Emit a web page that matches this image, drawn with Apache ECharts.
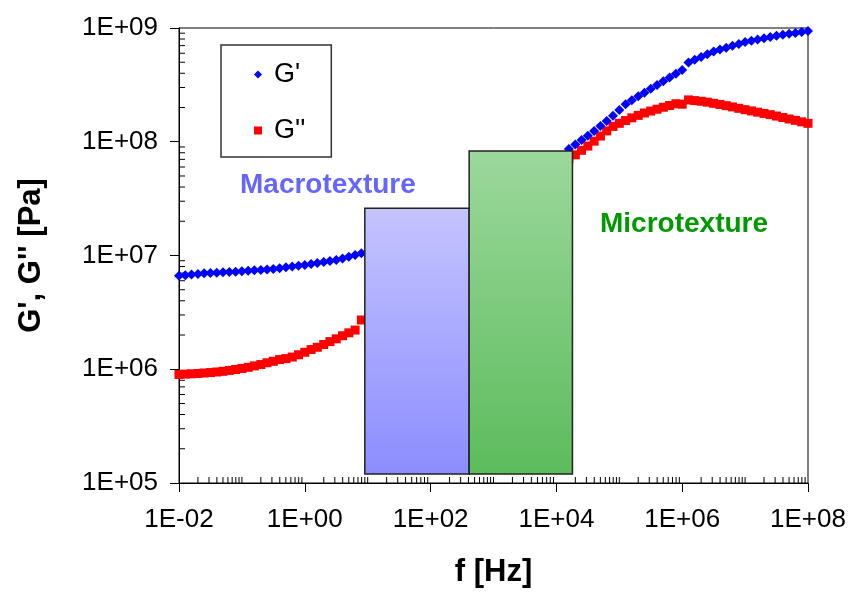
<!DOCTYPE html>
<html>
<head>
<meta charset="utf-8">
<script src="https://cdn.jsdelivr.net/npm/echarts@6/dist/echarts.min.js"></script>
<style>html,body{margin:0;padding:0;background:#fff}#c{width:852px;height:597px}</style>
</head>
<body>
<div id="c"></div>
<script>
// ---- data ----
const fLeft = [0.01, 0.0126, 0.0158, 0.02, 0.0251, 0.0316, 0.0398, 0.0501, 0.0631, 0.0794, 0.1, 0.126, 0.158, 0.2, 0.251, 0.316, 0.398, 0.501, 0.631, 0.794, 1, 1.26, 1.58, 2, 2.51, 3.16, 3.98, 5.01, 6.31, 7.94];
const gPrimeLeft = [6.64e6, 6.71e6, 6.79e6, 6.89e6, 6.97e6, 7.02e6, 7.06e6, 7.11e6, 7.16e6, 7.21e6, 7.26e6, 7.33e6, 7.40e6, 7.46e6, 7.53e6, 7.62e6, 7.74e6, 7.87e6, 8.00e6, 8.13e6, 8.24e6, 8.41e6, 8.59e6, 8.75e6, 8.93e6, 9.12e6, 9.42e6, 9.75e6, 1.01e7, 1.045e7];
const gDoublePrimeLeft = [9.0e5, 9.06e5, 9.12e5, 9.18e5, 9.27e5, 9.35e5, 9.46e5, 9.59e5, 9.77e5, 9.95e5, 1.016e6, 1.04e6, 1.07e6, 1.10e6, 1.14e6, 1.175e6, 1.216e6, 1.24e6, 1.28e6, 1.34e6, 1.41e6, 1.49e6, 1.56e6, 1.65e6, 1.75e6, 1.85e6, 1.97e6, 2.09e6, 2.21e6, 2.71e6];

const fRight = [15800, 20000, 25100, 31600, 39800, 50100, 63100, 79400, 1e5, 1.26e5, 1.58e5, 2e5, 2.51e5, 3.16e5, 3.98e5, 5.01e5, 6.31e5, 7.94e5, 1e6, 1.26e6, 1.58e6, 2e6, 2.51e6, 3.16e6, 3.98e6, 5.01e6, 6.31e6, 7.94e6, 1e7, 1.26e7, 1.58e7, 2e7, 2.51e7, 3.16e7, 3.98e7, 5.01e7, 6.31e7, 7.94e7, 1e8];
const gPrimeRight = [8.63e7, 9.44e7, 1.035e8, 1.13e8, 1.24e8, 1.374e8, 1.52e8, 1.69e8, 1.905e8, 2.14e8, 2.32e8, 2.51e8, 2.70e8, 2.92e8, 3.15e8, 3.40e8, 3.67e8, 3.96e8, 4.27e8, 4.98e8, 5.26e8, 5.56e8, 5.87e8, 6.21e8, 6.46e8, 6.70e8, 6.97e8, 7.24e8, 7.52e8, 7.73e8, 7.93e8, 8.13e8, 8.34e8, 8.55e8, 8.73e8, 8.89e8, 9.06e8, 9.23e8, 9.42e8];
const gDoublePrimeRight = [7.08e7, 7.67e7, 8.41e7, 9.16e7, 1.012e8, 1.122e8, 1.245e8, 1.365e8, 1.452e8, 1.538e8, 1.622e8, 1.706e8, 1.79e8, 1.862e8, 1.932e8, 2.01e8, 2.084e8, 2.158e8, 2.138e8, 2.333e8, 2.30e8, 2.27e8, 2.23e8, 2.178e8, 2.128e8, 2.075e8, 2.023e8, 1.968e8, 1.914e8, 1.866e8, 1.82e8, 1.774e8, 1.73e8, 1.683e8, 1.633e8, 1.585e8, 1.542e8, 1.496e8, 1.452e8];

const barNames = ['Macrotexture', 'Microtexture'];
const barStartHz = [9, 410];
const barEndHz = [410, 18000];
const barTopPa = [2.6e7, 8.3e7];
const barBottomPa = [1.2e5, 1.2e5];

const xTickValues = [1e-2, 1, 1e2, 1e4, 1e6, 1e8];
const xTickLabels = ['1E-02', '1E+00', '1E+02', '1E+04', '1E+06', '1E+08'];
const yTickValues = [1e5, 1e6, 1e7, 1e8, 1e9];
const yTickLabels = ['1E+05', '1E+06', '1E+07', '1E+08', '1E+09'];

const X_MIN = 1e-2, X_MAX = 1e8, Y_MIN = 1e5, Y_MAX = 1e9;

// ---- build ----
const pair = (xs, ys) => xs.map((x, i) => [x, ys[i]]);
const gPrimeData = pair(fLeft, gPrimeLeft).concat(pair(fRight, gPrimeRight));
const gDoublePrimeData = pair(fLeft, gDoublePrimeLeft).concat(pair(fRight, gDoublePrimeRight));
const barData = barNames.map((n, i) => [barStartHz[i], barEndHz[i], barTopPa[i], barBottomPa[i]]);

function tickLabel(values, labels, v) {
  const lv = Math.log10(v);
  for (let i = 0; i < values.length; i++) {
    if (Math.abs(Math.log10(values[i]) - lv) < 0.01) return labels[i];
  }
  return '';
}

// minor ticks (log-axis decoration)
const xMinor = [];
for (let e = -2; e < 8; e++) {
  for (let k = 1; k <= 9; k++) {
    if (k === 1 && e % 2 === 0) continue;
    xMinor.push([k * Math.pow(10, e), Y_MIN]);
  }
}
const yMinor = [];
for (let e = 5; e < 9; e++) {
  for (let k = 2; k <= 9; k++) yMinor.push([X_MIN, k * Math.pow(10, e)]);
}

const barGradients = [
  new echarts.graphic.LinearGradient(0, 0, 0, 1, [{offset: 0, color: '#c4c4ff'}, {offset: 1, color: '#8c8cff'}]),
  new echarts.graphic.LinearGradient(0, 0, 0, 1, [{offset: 0, color: '#9cd89c'}, {offset: 1, color: '#5cbc5c'}])
];

const FONT = '"Liberation Sans", Arial, sans-serif';

const chart = echarts.init(document.getElementById('c'), null, {renderer: 'canvas'});
chart.setOption({
  animation: false,
  backgroundColor: '#fff',
  grid: {left: 179, right: 44, top: 28, bottom: 114, show: true, borderColor: '#000', borderWidth: 1, backgroundColor: 'transparent'},
  xAxis: {
    type: 'log', min: X_MIN, max: X_MAX, interval: 2, logBase: 10,
    name: 'f [Hz]', nameLocation: 'middle', nameGap: 74,
    nameTextStyle: {fontFamily: FONT, fontSize: 31, fontWeight: 'bold', color: '#000'},
    axisLine: {lineStyle: {color: '#000', width: 1}},
    axisTick: {inside: false, length: 9, lineStyle: {color: '#000'}},
    axisLabel: {fontFamily: FONT, fontSize: 26, color: '#000', margin: 24, interval: 0,
      formatter: (v) => tickLabel(xTickValues, xTickLabels, v)},
    splitLine: {show: false}
  },
  yAxis: {
    type: 'log', min: Y_MIN, max: Y_MAX, interval: 1, logBase: 10,
    name: "G', G'' [Pa]", nameLocation: 'middle', nameGap: 132, nameRotate: 90,
    nameTextStyle: {fontFamily: FONT, fontSize: 31, fontWeight: 'bold', color: '#000'},
    axisLine: {lineStyle: {color: '#000', width: 1}},
    axisTick: {inside: false, length: 9, lineStyle: {color: '#000'}},
    axisLabel: {fontFamily: FONT, fontSize: 26, color: '#000', margin: 21, interval: 0,
      formatter: (v) => tickLabel(yTickValues, yTickLabels, v)},
    splitLine: {show: false}
  },
  legend: {
    left: 221, top: 45, orient: 'vertical',
    padding: [16, 26, 13, 33], itemGap: 29, itemWidth: 8, itemHeight: 8,
    borderColor: '#333', borderWidth: 1.5, backgroundColor: '#fff',
    textStyle: {fontFamily: FONT, fontSize: 27, color: '#000', padding: [0, 0, 0, 7]},
    data: [{name: "G'", icon: 'diamond'}, {name: "G''", icon: 'rect'}]
  },
  graphic: [
    {type: 'text', left: 240, top: 171, style: {text: 'Macrotexture', font: 'bold 28px ' + FONT, fill: '#6666ff'}, z: 100},
    {type: 'text', left: 600, top: 210, style: {text: 'Microtexture', font: 'bold 28px ' + FONT, fill: '#009900'}, z: 100}
  ],
  series: [
    {
      name: "G'", type: 'scatter', symbol: 'diamond', symbolSize: [10, 10],
      itemStyle: {color: '#0000ff', opacity: 1}, data: gPrimeData, z: 3, silent: true
    },
    {
      name: "G''", type: 'scatter', symbol: 'rect', symbolSize: 9,
      itemStyle: {color: '#ff0000', opacity: 1}, data: gDoublePrimeData, z: 2, silent: true
    },
    {
      name: 'bands', type: 'custom', z: 10, silent: true,
      data: barData,
      encode: {x: [0, 1], y: [2, 3]},
      renderItem: (params, api) => {
        const p0 = api.coord([api.value(0), api.value(2)]);
        const p1 = api.coord([api.value(1), api.value(3)]);
        return {
          type: 'rect',
          shape: {x: p0[0], y: p0[1], width: p1[0] - p0[0], height: p1[1] - p0[1]},
          style: {fill: barGradients[params.dataIndex], stroke: '#222', lineWidth: 1.5}
        };
      }
    },
    {
      name: 'xMinor', type: 'custom', z: 1, silent: true, data: xMinor,
      renderItem: (params, api) => {
        const p = api.coord([api.value(0), api.value(1)]);
        return {type: 'line', shape: {x1: p[0], y1: p[1], x2: p[0], y2: p[1] - 6}, style: {stroke: '#000', lineWidth: 1}};
      }
    },
    {
      name: 'yMinor', type: 'custom', z: 1, silent: true, data: yMinor,
      renderItem: (params, api) => {
        const p = api.coord([api.value(0), api.value(1)]);
        return {type: 'line', shape: {x1: p[0], y1: p[1], x2: p[0] + 6, y2: p[1]}, style: {stroke: '#000', lineWidth: 1}};
      }
    }
  ]
});
</script>
</body>
</html>
